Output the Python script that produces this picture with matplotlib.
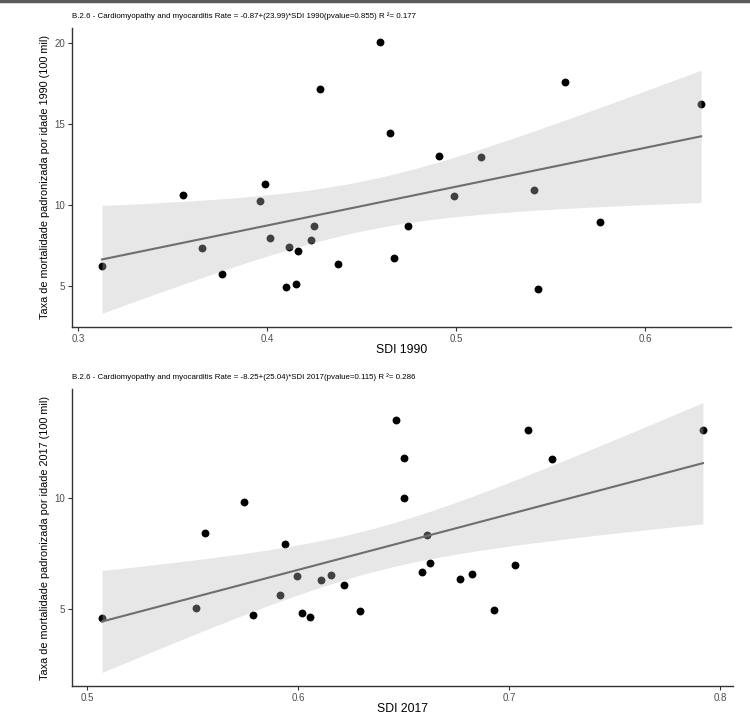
import numpy as np
import matplotlib
matplotlib.use("Agg")
import matplotlib.pyplot as plt
from matplotlib.lines import Line2D

plt.rcParams['font.family'] = ['Liberation Sans', 'DejaVu Sans']

# SDI 1990 vs rate (27 states)
sdi_1990 = [0.3125, 0.3556, 0.3653, 0.3762, 0.3960, 0.3990, 0.4015, 0.4099, 0.4113,
            0.4152, 0.4163, 0.4233, 0.4249, 0.4277, 0.4376, 0.4597, 0.4648, 0.4669,
            0.4745, 0.4910, 0.4989, 0.5128, 0.5413, 0.5433, 0.5577, 0.5758, 0.6294]
rate_1990 = [6.23, 10.63, 7.34, 5.72, 10.23, 11.29, 7.95, 4.96, 7.38,
             5.13, 7.15, 7.87, 8.69, 17.13, 6.36, 20.08, 14.47, 6.72,
             8.69, 13.05, 10.55, 12.99, 10.94, 4.84, 17.60, 8.96, 16.23]

# SDI 2017 vs rate
sdi_2017 = [0.5070, 0.5517, 0.5558, 0.5745, 0.5787, 0.5912, 0.5937, 0.5996, 0.6017,
            0.6055, 0.6110, 0.6158, 0.6218, 0.6295, 0.6466, 0.6504, 0.6504, 0.6611,
            0.6586, 0.6627, 0.6768, 0.6826, 0.6929, 0.7029, 0.7092, 0.7205, 0.7920]
rate_2017 = [4.61, 5.07, 8.43, 9.82, 4.76, 5.62, 7.92, 6.50, 4.85,
             4.65, 6.31, 6.56, 6.07, 4.94, 13.53, 11.81, 10.01, 8.35,
             6.69, 7.06, 6.36, 6.60, 4.96, 6.99, 13.07, 11.77, 13.07]

titles = ["B.2.6 - Cardiomyopathy and myocarditis Rate = -0.87+(23.99)*SDI 1990(pvalue=0.855) R \u00b2= 0.177",
          "B.2.6 - Cardiomyopathy and myocarditis Rate = -8.25+(25.04)*SDI 2017(pvalue=0.115) R \u00b2= 0.286"]
xlabels = ["SDI 1990", "SDI 2017"]
ylabels = ["Taxa de mortalidade padronizada por idade 1990 (100 mil)",
           "Taxa de mortalidade padronizada por idade 2017 (100 mil)"]
xticks = [[0.3, 0.4, 0.5, 0.6], [0.5, 0.6, 0.7, 0.8]]
yticks = [[5, 10, 15, 20], [5, 10]]

T975_25 = 2.0595  # t quantile, 25 df


def smooth(x, y):
    x = np.array(x)
    y = np.array(y)
    n = len(x)
    b, a = np.polyfit(x, y, 1)
    res = y - (a + b * x)
    s = np.sqrt(np.sum(res ** 2) / (n - 2))
    sxx = np.sum((x - x.mean()) ** 2)
    xs = np.linspace(x.min(), x.max(), 80)
    yh = a + b * xs
    se = s * np.sqrt(1.0 / n + (xs - x.mean()) ** 2 / sxx)
    return xs, yh, yh - T975_25 * se, yh + T975_25 * se


fig = plt.figure(figsize=(7.5, 7.14), dpi=100)
W, H = 750.0, 714.0
boxes = [(72, 28, 731, 327), (72, 389, 733, 686)]

for i, (x, y) in enumerate([(sdi_1990, rate_1990), (sdi_2017, rate_2017)]):
    l, t, r, b = boxes[i]
    ax = fig.add_axes([l / W, 1 - b / H, (r - l) / W, (b - t) / H])
    ax.scatter(x, y, s=32, color='black', zorder=2, linewidths=0)
    xs, yh, lo, hi = smooth(x, y)
    ax.fill_between(xs, lo, hi, color='#bbbbbb', alpha=0.35, linewidth=0, zorder=3)
    ax.plot(xs, yh, color='#6e6e6e', lw=1.5, zorder=4)
    ax.margins(x=0.05, y=0.05)
    ax.set_xticks(xticks[i])
    ax.set_yticks(yticks[i])
    ax.set_xticklabels([str(v) for v in xticks[i]])
    for sp in ['top', 'right']:
        ax.spines[sp].set_visible(False)
    for sp in ['left', 'bottom']:
        ax.spines[sp].set_color('#333333')
        ax.spines[sp].set_linewidth(1.0)
    ax.tick_params(length=3, width=0.8, color='#333333', labelsize=7,
                   labelcolor='#4d4d4d', pad=2)
    ax.set_xlabel(xlabels[i], fontsize=8.8, labelpad=0)
    ax.set_ylabel(ylabels[i], fontsize=7.8, labelpad=3)
    ax.set_title(titles[i], fontsize=5.7, loc='left', pad=7)

fig.add_artist(Line2D([0, 1], [0.999, 0.999], color='#5a5a5a', lw=2.5))
fig.savefig("out.png", dpi=100)
